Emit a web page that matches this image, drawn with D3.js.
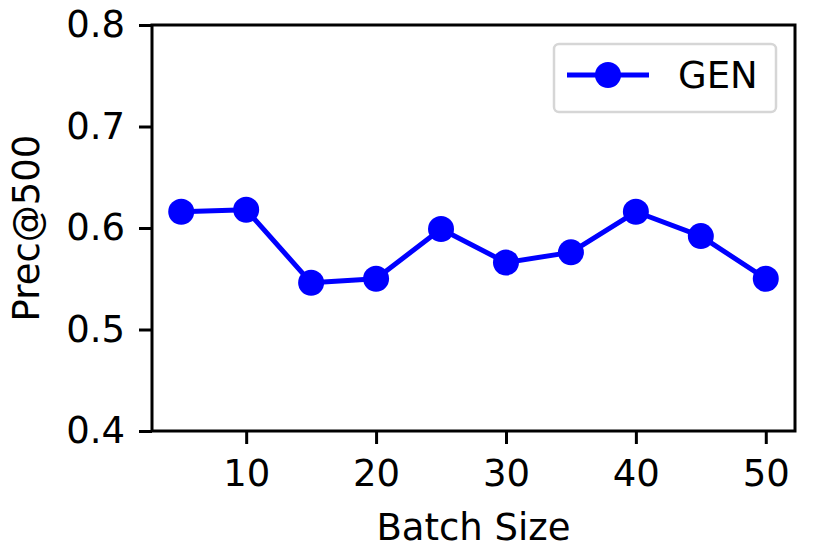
<!DOCTYPE html>
<html>
<head>
<meta charset="utf-8">
<script src="https://cdn.jsdelivr.net/npm/d3@7"></script>
<style>
  html, body { margin: 0; padding: 0; background: #fff; }
  svg { display: block; font-family: "DejaVu Sans", sans-serif; }
</style>
</head>
<body>
<svg id="chart" width="830" height="554"></svg>
<script>
const batchSizes = [5, 10, 15, 20, 25, 30, 35, 40, 45, 50];
const genValues = [0.616, 0.618, 0.546, 0.550, 0.599, 0.566, 0.576, 0.616, 0.592, 0.550];
const xTicks = [10, 20, 30, 40, 50];
const yTicks = [0.4, 0.5, 0.6, 0.7, 0.8];
const seriesName = "GEN";
const xLabel = "Batch Size";
const yLabel = "Prec@500";

const svg = d3.select("#chart");
const plot = { left: 152, right: 795, top: 25, bottom: 431 };
const fontSize = 37;

const x = d3.scaleLinear().domain([2.75, 52.25]).range([plot.left, plot.right]);
const y = d3.scaleLinear().domain([0.4, 0.8]).range([plot.bottom, plot.top]);

// X axis
const xAxis = svg.append("g")
  .attr("transform", `translate(0,${plot.bottom})`)
  .call(d3.axisBottom(x).tickValues(xTicks).tickSize(13).tickPadding(16).tickFormat(d3.format("d")));
xAxis.select(".domain").remove();
xAxis.selectAll(".tick line").attr("stroke", "#000").attr("stroke-width", 3);
xAxis.selectAll(".tick text").attr("font-size", fontSize).attr("font-family", "DejaVu Sans").attr("fill", "#000");

// Y axis
const yAxis = svg.append("g")
  .attr("transform", `translate(${plot.left},0)`)
  .call(d3.axisLeft(y).tickValues(yTicks).tickSize(13).tickPadding(14).tickFormat(d3.format(".1f")));
yAxis.select(".domain").remove();
yAxis.selectAll(".tick line").attr("stroke", "#000").attr("stroke-width", 3);
yAxis.selectAll(".tick text").attr("font-size", fontSize).attr("font-family", "DejaVu Sans").attr("fill", "#000");

// Line
const line = d3.line().x((d, i) => x(batchSizes[i])).y(d => y(d));
svg.append("path")
  .datum(genValues)
  .attr("d", line)
  .attr("fill", "none")
  .attr("stroke", "#0000ff")
  .attr("stroke-width", 5)
  .attr("stroke-linejoin", "round");

svg.append("g").selectAll("circle")
  .data(genValues)
  .join("circle")
  .attr("cx", (d, i) => x(batchSizes[i]))
  .attr("cy", d => y(d))
  .attr("r", 13)
  .attr("fill", "#0000ff");

// Frame
svg.append("rect")
  .attr("x", plot.left).attr("y", plot.top)
  .attr("width", plot.right - plot.left).attr("height", plot.bottom - plot.top)
  .attr("fill", "none").attr("stroke", "#000").attr("stroke-width", 3);

// Axis labels
svg.append("text")
  .attr("x", (plot.left + plot.right) / 2).attr("y", 540)
  .attr("text-anchor", "middle").attr("font-size", fontSize).attr("fill", "#000")
  .text(xLabel);

svg.append("text")
  .attr("transform", `translate(39,${(plot.top + plot.bottom) / 2}) rotate(-90)`)
  .attr("text-anchor", "middle").attr("font-size", fontSize).attr("fill", "#000")
  .text(yLabel);

// Legend
const lg = svg.append("g");
lg.append("rect")
  .attr("x", 554).attr("y", 44).attr("width", 222).attr("height", 68)
  .attr("rx", 5).attr("fill", "#fff").attr("stroke", "#d6d6d6").attr("stroke-width", 2.5);
lg.append("line")
  .attr("x1", 567).attr("x2", 649).attr("y1", 75).attr("y2", 75)
  .attr("stroke", "#0000ff").attr("stroke-width", 5);
lg.append("circle").attr("cx", 608).attr("cy", 75).attr("r", 13).attr("fill", "#0000ff");
lg.append("text")
  .attr("x", 678).attr("y", 88).attr("font-size", fontSize).attr("fill", "#000")
  .text(seriesName);
</script>
</body>
</html>
